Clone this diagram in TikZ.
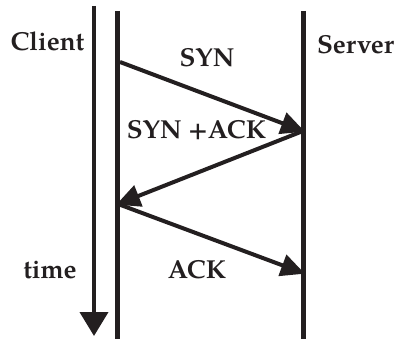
\documentclass[tikz,border=0pt]{standalone}
\usepackage{fontspec}
\setmainfont{TeX Gyre Pagella}
\usetikzlibrary{arrows.meta}
\definecolor{ink}{RGB}{35,31,32}
\begin{document}
\begin{tikzpicture}[x=1pt,y=-1pt, color=ink,
  lbl/.style={font=\bfseries\fontsize{26}{30}\selectfont, inner sep=0pt, text=ink},
  life/.style={line width=4.5pt},
  msg/.style={line width=4pt, -{Triangle[length=24pt,width=22pt]}, shorten >=-2pt}]
\useasboundingbox (0,0) rectangle (398,339);
% time axis
\coordinate (t1) at (94,6);
\coordinate (t2) at (94,336);
\draw[line width=4pt, -{Triangle[length=24pt,width=28pt]}] (t1) -- (t2);
% lifelines
\coordinate (c1) at (117.5,11);
\coordinate (c2) at (117.5,339);
\coordinate (s1) at (303.5,11);
\coordinate (s2) at (303.5,339);
\draw[life] (c1) -- (c2);
\draw[life] (s1) -- (s2);
% message points
\coordinate (ca) at (120,62);
\coordinate (sa) at (303,131);
\coordinate (cb) at (118,204);
\coordinate (sb) at (303,273);
\draw[msg] (ca) -- (sa);
\draw[msg] (sa) -- (cb);
\draw[msg] (cb) -- (sb);
% labels
\node[lbl] (client) at (47.5,41) {Client};
\node[lbl] (server) at (355.5,45) {Server};
\node[lbl] (syn) at (207,58) {SYN};
\node[lbl] (synack) at (196.5,130) {SYN +ACK};
\node[lbl] (time) at (50,270) {time};
\node[lbl] (ack) at (197,270) {ACK};
\end{tikzpicture}
\end{document}
